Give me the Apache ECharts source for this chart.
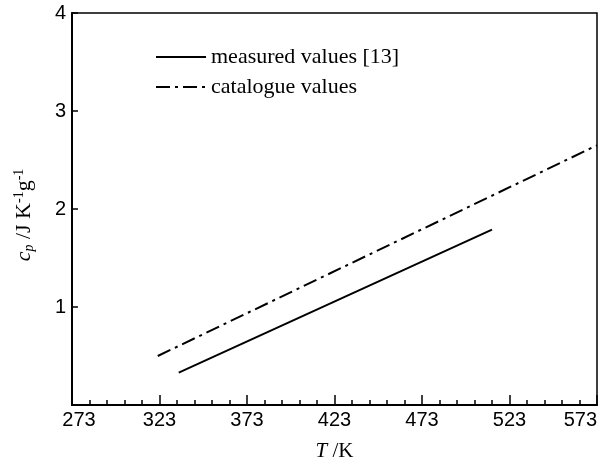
<!DOCTYPE html>
<html>
<head>
<meta charset="utf-8">
<script src="https://cdn.jsdelivr.net/npm/echarts@6/dist/echarts.min.js"></script>
<style>html,body{margin:0;padding:0;background:#fff}#c{width:607px;height:463px}</style>
</head>
<body>
<div id="c"></div>
<script>
const measuredT = [334, 513];
const measuredCp = [0.33, 1.79];
const catalogueT = [322, 573];
const catalogueCp = [0.50, 2.65];
const seriesNames = ['measured values [13]', 'catalogue values'];
const xTicks = [273, 323, 373, 423, 473, 523, 573];
const yTicks = [1, 2, 3, 4];

const chart = echarts.init(document.getElementById('c'), null, {renderer: 'canvas'});
const tickFont = {fontFamily: 'Liberation Sans', fontSize: 20, color: '#000'};
const serif = 'Liberation Serif';
chart.setOption({
  animation: false,
  backgroundColor: '#fff',
  grid: {left: 72, right: 10, top: 13, bottom: 58, show: true, borderColor: '#000', borderWidth: 1.5,
    containLabel: false, outerBoundsMode: 'none'},
  legend: {
    orient: 'vertical', left: 150, top: 41, itemWidth: 50, itemHeight: 10, itemGap: 8,
    itemStyle: {opacity: 0},
    textStyle: {fontFamily: serif, fontSize: 22, color: '#000'},
    data: seriesNames
  },
  xAxis: {
    type: 'value', min: 273, max: 573, interval: 50,
    name: '{i|T} /K', nameLocation: 'middle', nameGap: 36,
    nameTextStyle: {fontFamily: serif, fontSize: 21, color: '#000', rich: {i: {fontFamily: serif, fontStyle: 'italic', fontSize: 21}}},
    axisLine: {lineStyle: {color: '#000', width: 2}},
    axisTick: {inside: true, length: 10, lineStyle: {color: '#000', width: 1.5}},
    minorTick: {show: true, splitNumber: 5, length: 5, lineStyle: {color: '#000', width: 1.5}},
    splitLine: {show: false},
    axisLabel: Object.assign({
      margin: 5, alignMaxLabel: 'right',
      formatter: v => v === xTicks[0] ? '{f|' + v + '}' : (xTicks.includes(v) ? String(v) : ''),
      rich: {f: {fontFamily: 'Liberation Sans', fontSize: 20, color: '#000', padding: [0, 0, 0, 14]}}
    }, tickFont)
  },
  yAxis: {
    type: 'value', min: 0, max: 4, interval: 1,
    name: '{i|c}{sub|p} /J K{sup|-1}g{sup|-1}', nameLocation: 'middle', nameGap: 36, nameRotate: 90,
    nameTextStyle: {fontFamily: serif, fontSize: 22, color: '#000', padding: [0, 12, 0, 0],
      rich: {
        i: {fontFamily: serif, fontStyle: 'italic', fontSize: 22},
        sub: {fontFamily: serif, fontStyle: 'italic', fontSize: 14, verticalAlign: 'bottom', padding: [8, 0, 0, 0]},
        sup: {fontFamily: serif, fontSize: 14, verticalAlign: 'top', padding: [0, 0, 10, 0]}
      }},
    axisLine: {lineStyle: {color: '#000', width: 2}},
    axisTick: {inside: true, length: 6, lineStyle: {color: '#000', width: 1.5}},
    splitLine: {show: false},
    axisLabel: Object.assign({margin: 6, formatter: v => yTicks.includes(v) ? String(v) : ''}, tickFont)
  },
  series: [
    {
      name: seriesNames[0], type: 'line', symbol: 'none',
      lineStyle: {color: '#000', width: 2},
      itemStyle: {color: '#000'},
      data: measuredT.map((t, i) => [t, measuredCp[i]])
    },
    {
      name: seriesNames[1], type: 'line', symbol: 'none',
      lineStyle: {color: '#000', width: 2, type: [14, 5, 3, 5]},
      itemStyle: {color: '#000'},
      data: catalogueT.map((t, i) => [t, catalogueCp[i]])
    }
  ]
});
</script>
</body>
</html>
